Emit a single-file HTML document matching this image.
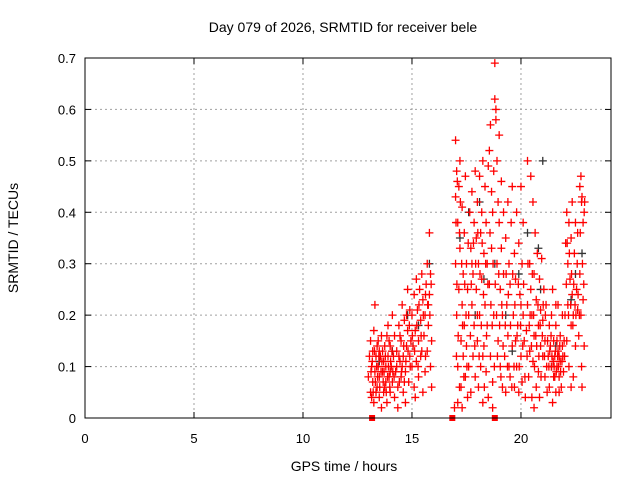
<!DOCTYPE html>
<html><head><meta charset="utf-8"><style>
body{margin:0;background:#fff;}
svg{display:block;font-family:"Liberation Sans",sans-serif;}
</style></head><body>
<svg id="chart" width="640" height="480">
<text x="343" y="32" font-size="14" text-anchor="middle">Day 079 of 2026, SRMTID for receiver bele</text>
<text x="344" y="471" font-size="14" text-anchor="middle">GPS time / hours</text>
<text transform="translate(18,238) rotate(-90)" font-size="14" text-anchor="middle">SRMTID / TECUs</text>
<g id="grid"></g><g id="ticks"></g><g id="marks"></g>
<rect x="85" y="58" width="526" height="360" fill="none" stroke="#000"/>
</svg>
<script>
const xTicks=[0,5,10,15,20];
const yTicks=[0,0.1,0.2,0.3,0.4,0.5,0.6,0.7];
const yTickLabels=["0","0.1","0.2","0.3","0.4","0.5","0.6","0.7"];
const redPts=[[13.0,.08],[13.05,.12],[13.1,.05],[13.1,.15],[13.15,.1],[13.2,.07],[13.2,.13],[13.25,.03],[13.3,.09],[13.3,.22],[13.35,.12],[13.4,.06],[13.4,.14],[13.45,.1],[13.5,.04],[13.5,.08],[13.55,.12],[13.6,.02],[13.6,.16],[13.65,.09],[13.7,.05],[13.7,.11],[13.75,.14],[13.8,.07],[13.8,.1],[13.85,.03],[13.9,.12],[13.9,.18],[13.95,.08],[14.0,.05],[14.0,.14],[14.05,.1],[14.1,.07],[14.1,.2],[14.15,.12],[14.2,.04],[14.2,.16],[13.25,.17],[13.5,.13],[13.75,.06],[14.0,.09],[13.35,.05],[13.65,.13],[13.95,.15],[13.15,.04],
[14.25,.09],[14.3,.13],[14.35,.06],[14.4,.18],[14.45,.11],[14.5,.08],[14.5,.15],[14.55,.22],[14.6,.05],[14.6,.12],[14.65,.19],[14.7,.09],[14.75,.14],[14.8,.25],[14.8,.17],[14.85,.07],[14.9,.21],[14.9,.12],[14.95,.15],[14.35,.02],[14.7,.03],[14.45,.16],[14.55,.1],[14.65,.07],[14.75,.2],
[15.0,.1],[15.0,.2],[15.05,.14],[15.1,.24],[15.1,.06],[15.15,.17],[15.2,.27],[15.2,.11],[15.25,.21],[15.3,.08],[15.3,.15],[15.35,.25],[15.4,.19],[15.4,.12],[15.45,.28],[15.5,.23],[15.5,.05],[15.55,.16],[15.6,.2],[15.6,.09],[15.65,.26],[15.7,.3],[15.7,.13],[15.75,.18],[15.8,.36],[15.8,.24],[15.85,.1],[15.85,.28],[15.9,.15],[15.9,.06],[15.15,.04],[15.45,.13],[15.75,.22],
[16.95,.02],[17.0,.54],[17.0,.43],[17.0,.3],[17.05,.48],[17.05,.2],[17.1,.38],[17.1,.1],[17.15,.45],[17.15,.25],[17.2,.5],[17.2,.33],[17.25,.15],[17.25,.06],[17.3,.41],[17.3,.22],[17.35,.28],[17.35,.12],[17.4,.36],[17.4,.18],[17.45,.08],[17.45,.47],[17.5,.3],[17.5,.14],[17.55,.25],[17.55,.04],[17.6,.2],[17.6,.1],[17.1,.03],[17.3,.02],
[17.65,.4],[17.7,.33],[17.7,.05],[17.75,.44],[17.75,.22],[17.8,.28],[17.8,.12],[17.85,.38],[17.85,.18],[17.9,.48],[17.9,.08],[17.95,.35],[17.95,.25],[18.0,.42],[18.0,.15],[18.05,.3],[18.05,.06],[18.1,.47],[18.1,.2],[18.15,.36],[18.15,.1],[18.2,.4],[18.2,.27],[18.25,.03],[18.25,.5],[18.3,.32],[18.3,.14],[18.35,.45],[18.35,.22],[18.4,.38],[18.4,.09],[18.45,.3],[18.45,.18],[18.5,.49],[18.5,.04],[17.75,.3],[18.0,.2],[18.25,.12],
[18.55,.52],[18.55,.26],[18.6,.57],[18.6,.12],[18.65,.44],[18.65,.33],[18.7,.4],[18.7,.07],[18.75,.48],[18.75,.2],[18.8,.69],[18.8,.62],[18.85,.6],[18.85,.58],[18.9,.5],[18.9,.3],[18.95,.42],[18.95,.15],[19.0,.55],[19.0,.38],[19.05,.25],[19.05,.1],[19.1,.46],[19.1,.33],[19.15,.2],[19.15,.06],[19.2,.4],[19.2,.28],[18.7,.02],
[19.25,.12],[19.3,.35],[19.3,.05],[19.35,.22],[19.4,.42],[19.4,.16],[19.45,.3],[19.5,.08],[19.5,.26],[19.55,.38],[19.6,.14],[19.6,.45],[19.65,.2],[19.7,.32],[19.7,.06],[19.75,.27],[19.8,.4],[19.8,.1],[19.85,.18],[19.9,.34],[19.9,.05],[19.95,.24],[20.0,.45],[20.0,.12],[20.05,.3],[20.05,.07],[20.1,.38],[20.1,.2],[20.15,.15],[20.2,.04],[19.45,.1],[19.75,.15],[20.0,.22],
[20.25,.17],[20.3,.5],[20.3,.22],[20.35,.08],[20.4,.3],[20.4,.13],[20.45,.47],[20.45,.25],[20.5,.04],[20.5,.2],[20.55,.42],[20.55,.11],[20.6,.28],[20.6,.16],[20.65,.36],[20.7,.06],[20.7,.23],[20.75,.32],[20.8,.18],[20.8,.09],[20.85,.27],[20.9,.14],[20.9,.21],[20.95,.31],[21.0,.12],[21.0,.19],[21.05,.25],[21.1,.08],[21.1,.15],[21.15,.22],[21.2,.05],[20.6,.02],[20.85,.04],
[21.25,.12],[21.3,.18],[21.3,.06],[21.35,.14],[21.4,.2],[21.4,.1],[21.45,.25],[21.5,.08],[21.5,.15],[21.55,.12],[21.6,.18],[21.6,.05],[21.65,.1],[21.7,.22],[21.7,.13],[21.75,.08],[21.8,.16],[21.8,.11],[21.85,.06],[21.9,.14],[21.9,.2],[21.95,.09],[22.0,.12],[21.45,.03],[21.65,.15],[21.75,.12],
[22.05,.34],[22.1,.4],[22.1,.15],[22.15,.3],[22.15,.22],[22.2,.38],[22.2,.1],[22.25,.27],[22.3,.35],[22.3,.18],[22.35,.42],[22.35,.24],[22.4,.2],[22.4,.08],[22.45,.32],[22.5,.14],[22.5,.38],[22.55,.25],[22.6,.21],[22.6,.36],[22.65,.16],[22.7,.45],[22.7,.28],[22.75,.47],[22.75,.2],[22.8,.43],[22.8,.06],[22.85,.38],[22.85,.23],[22.9,.4],[22.9,.14],[22.3,.06]];
const redPts2=[[13.12,.09],[13.18,.11],[13.22,.05],[13.28,.13],[13.32,.07],[13.38,.1],[13.42,.08],[13.48,.12],[13.52,.06],[13.58,.09],[13.62,.11],[13.68,.07],[13.72,.09],[13.78,.12],[13.82,.05],[13.88,.08],[13.92,.1],[13.98,.06],[14.02,.11],[14.08,.13],[14.12,.09],[14.18,.08],[13.45,.15],[13.85,.16],[14.3,.1],[14.4,.12],[14.52,.09],[14.62,.14],[14.72,.11],[14.82,.13],[14.92,.1],[14.42,.07],[14.88,.18],
[15.02,.16],[15.12,.13],[15.22,.18],[15.32,.22],[15.42,.16],[15.52,.2],[15.62,.24],[15.72,.22],[15.82,.2],[15.88,.26],[15.62,.12],[15.28,.1],
[17.02,.38],[17.06,.26],[17.08,.46],[17.12,.16],[17.18,.36],[17.22,.42],[17.28,.3],[17.32,.18],[17.38,.08],[17.42,.26],[17.48,.2],[17.52,.1],[17.58,.34],[17.04,.12],[17.18,.06],
[17.68,.16],[17.72,.26],[17.82,.34],[17.88,.14],[17.92,.3],[18.02,.36],[18.08,.12],[18.12,.28],[18.18,.18],[18.22,.34],[18.28,.24],[18.32,.06],[18.38,.3],[18.42,.16],[18.48,.26],
[18.58,.36],[18.62,.22],[18.68,.18],[18.72,.3],[18.78,.1],[18.82,.26],[18.88,.2],[18.92,.12],[18.98,.28],[19.02,.18],[19.08,.08],[19.12,.22],[19.18,.14],
[19.28,.18],[19.32,.28],[19.38,.1],[19.42,.24],[19.52,.18],[19.58,.06],[19.62,.28],[19.68,.1],[19.72,.22],[19.82,.16],[19.88,.26],[19.92,.1],[19.98,.18],[20.08,.14],[20.12,.26],[20.18,.08],
[20.28,.12],[20.32,.3],[20.38,.18],[20.42,.2],[20.48,.14],[20.52,.28],[20.58,.2],[20.62,.1],[20.68,.16],[20.72,.14],[20.78,.22],[20.82,.12],[20.88,.18],[20.92,.08],[20.98,.16],[21.02,.22],[21.08,.12],[21.12,.2],[21.18,.1],
[21.22,.15],[21.28,.1],[21.32,.13],[21.38,.16],[21.42,.12],[21.48,.11],[21.52,.1],[21.58,.13],[21.62,.09],[21.68,.12],[21.72,.1],[21.78,.14],[21.82,.09],[21.88,.11],[21.92,.12],[21.98,.15],[21.55,.08],[21.75,.05],[21.6,.22],
[22.02,.2],[22.08,.26],[22.12,.34],[22.18,.2],[22.22,.32],[22.28,.22],[22.32,.28],[22.38,.18],[22.42,.26],[22.48,.22],[22.52,.2],[22.58,.3],[22.62,.24],[22.68,.2],[22.72,.36],[22.78,.42],[22.82,.3],[22.88,.26],[22.92,.42],[22.78,.1]];
const blackPts=[[13.5,.11],[14.1,.13],[14.8,.2],[15.3,.18],[15.8,.3],[17.2,.35],[17.6,.4],[17.9,.2],[18.3,.27],[18.8,.3],[19.3,.2],[19.9,.28],[20.3,.36],[20.9,.25],[21.0,.5],[21.6,.14],[22.3,.23],[22.5,.28],[22.8,.32],[20.8,.33],[18.1,.42],[19.6,.13],[21.4,.1]];
const squareHours=[13.17,16.85,18.8];
const X0=85,X1=611,Y0=418,Y1=58,XMAX=24.13,YMAX=0.7;
const sx=h=>X0+(X1-X0)*h/XMAX;
const sy=v=>Y0-(Y0-Y1)*v/YMAX;
const NS='http://www.w3.org/2000/svg';
function mk(tag,attrs,parent){const e=document.createElementNS(NS,tag);for(const k in attrs)e.setAttribute(k,attrs[k]);parent.appendChild(e);return e;}
const grid=document.getElementById('grid'),ticks=document.getElementById('ticks'),marks=document.getElementById('marks');
xTicks.forEach(t=>{const x=sx(t);
 if(t>0){const g=mk('line',{x1:x,x2:x,y1:Y1,y2:Y0,stroke:'#a0a0a0','stroke-dasharray':'2,3'},grid);
 
 }
 mk('line',{x1:x,x2:x,y1:Y0,y2:Y0-6,stroke:'#000'},ticks);mk('line',{x1:x,x2:x,y1:Y1,y2:Y1+6,stroke:'#000'},ticks);
 const l=mk('text',{x:x,y:Y0+25,'font-size':13,'text-anchor':'middle'},ticks);l.textContent=String(t);
 
 });
yTicks.forEach((t,i)=>{const y=sy(t);
 if(t>0&&t<0.7){const g=mk('line',{x1:X0,x2:X1,y1:y,y2:y,stroke:'#a0a0a0','stroke-dasharray':'2,3'},grid);
 
 }
 mk('line',{x1:X0,x2:X0+6,y1:y,y2:y,stroke:'#000'},ticks);mk('line',{x1:X1,x2:X1-6,y1:y,y2:y,stroke:'#000'},ticks);
 const l=mk('text',{x:X0-9,y:y+5,'font-size':13,'text-anchor':'end'},ticks);l.textContent=yTickLabels[i];
 
 });
function cross(h,v,col,name){const x=sx(h),y=sy(v);
 const p=mk('path',{d:`M${x-4},${y}h8M${x},${y-4}v8`,stroke:col,'stroke-width':1.3,fill:'none'},marks);
 
 }
blackPts.forEach(p=>cross(p[0],p[1],'#333','black-point'));
redPts.forEach(p=>cross(p[0],p[1],'#ff0000','red-point'));
redPts2.forEach(p=>cross(p[0],p[1],'#ff0000','red-point'));
squareHours.forEach(h=>{const r=mk('rect',{x:sx(h)-3,y:Y0-3,width:6,height:6,fill:'#ff0000'},marks);
 
 });
</script>
</body></html>
